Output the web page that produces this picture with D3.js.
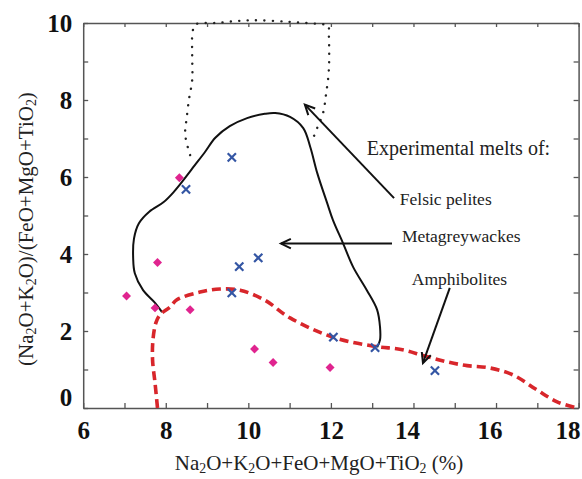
<!DOCTYPE html>
<html>
<head>
<meta charset="utf-8">
<script src="https://cdn.jsdelivr.net/npm/d3@7/dist/d3.min.js"></script>
<style>
  html, body { margin: 0; padding: 0; background: #fff; }
  svg { display: block; }
  text { font-family: "Liberation Serif", "Times New Roman", serif; }
</style>
</head>
<body>
<svg id="chart" width="582" height="479"></svg>
<script>
// Axis tick labels
const xTickLabels = [6, 8, 10, 12, 14, 16, 18];
const yTickLabels = [0, 2, 4, 6, 8, 10];

// Sample compositions: [x, y]
const diamondSamples = [
  [7.05, 2.91], [7.8, 3.78], [8.33, 5.98], [7.74, 2.6],
  [8.59, 2.55], [10.15, 1.53], [10.6, 1.18], [11.98, 1.05]
];
const crossSamples = [
  [8.49, 5.68], [9.6, 6.51], [9.78, 3.67], [10.24, 3.9],
  [9.6, 2.99], [12.06, 1.84], [13.07, 1.57], [14.52, 0.97]
];

// Experimental melt fields
const felsicPelitesField = [
  [8.59, 6.57], [8.49, 6.96], [8.47, 7.22], [8.5, 7.48], [8.56, 8.0],
  [8.64, 8.52], [8.64, 9.17], [8.65, 9.77], [8.72, 9.96], [9.2, 10.0],
  [10.04, 10.07], [11.0, 10.03], [11.74, 9.97], [11.93, 9.94], [11.95, 9.69],
  [11.95, 8.78], [11.88, 8.13], [11.81, 7.66], [11.66, 7.25], [11.57, 7.01]
];
const metagreywackesField = [
  [7.91, 2.49], [7.74, 2.73], [7.45, 3.06], [7.25, 3.5], [7.21, 3.9],
  [7.23, 4.4], [7.35, 4.8], [7.6, 5.1], [7.95, 5.35], [8.2, 5.62],
  [8.45, 5.95], [8.7, 6.3], [8.95, 6.65], [9.2, 7.02], [9.55, 7.32],
  [9.97, 7.53], [10.4, 7.64], [10.65, 7.66], [11.01, 7.56], [11.33, 7.27],
  [11.5, 6.78], [11.67, 6.1], [11.91, 5.32], [12.05, 4.88], [12.29, 4.29],
  [12.54, 3.66], [12.87, 3.06], [13.12, 2.55], [13.19, 2.1], [13.19, 1.77],
  [13.12, 1.58]
];
const amphibolitesField = [
  [7.8, 0], [7.74, 0.65], [7.68, 1.25], [7.69, 1.77], [7.76, 2.21],
  [7.86, 2.42], [8.1, 2.62], [8.27, 2.81], [8.83, 3.01], [9.31, 3.09],
  [9.8, 3.06], [10.4, 2.8], [11.01, 2.34], [12.05, 1.84], [13.07, 1.6],
  [13.7, 1.52], [14.25, 1.36], [14.81, 1.2], [15.3, 1.1], [15.85, 1.04],
  [16.41, 0.86], [16.99, 0.47], [17.48, 0.16], [17.96, 0]
];

// Annotation labels and their leader arrows (from -> tip)
const annotations = [
  { text: "Experimental melts of:", at: [12.87, 6.57], size: 20 },
  { text: "Felsic pelites", at: [13.67, 5.27], size: 17.5 },
  { text: "Metagreywackes", at: [13.72, 4.32], size: 17.5 },
  { text: "Amphibolites", at: [13.96, 3.19], size: 17.5 }
];
const arrows = [
  { from: [13.53, 5.45], to: [11.37, 7.88] },
  { from: [13.48, 4.27], to: [10.79, 4.27] },
  { from: [14.88, 3.12], to: [14.23, 1.17] }
];

const svg = d3.select("#chart");
const W = 582, H = 479;
svg.append("rect").attr("width", W).attr("height", H).attr("fill", "#fff");

const x = d3.scaleLinear().domain([6, 18]).range([83.2, 578.6]);
const y = d3.scaleLinear().domain([0, 10]).range([408, 23]);

const axisColor = "#555";
const minorX = d3.range(6, 19, 1);
const minorY = d3.range(0, 11, 1);

function styleAxis(g) {
  g.select(".domain").attr("stroke", axisColor).attr("stroke-width", 1.5);
  g.selectAll(".tick line").attr("stroke", axisColor).attr("stroke-width", 1.3);
  g.selectAll(".tick text").filter(function () { return this.textContent === ""; }).remove();
}

// Top and right frame axes (ticks only)
svg.append("g").attr("transform", `translate(0,${y(10)})`)
  .call(d3.axisTop(x).tickValues(minorX).tickSize(-4).tickSizeOuter(0).tickFormat(""))
  .call(styleAxis);
svg.append("g").attr("transform", `translate(${x(18)},0)`)
  .call(d3.axisRight(y).tickValues(minorY).tickSize(-5).tickSizeOuter(0).tickFormat(""))
  .call(styleAxis);

// Bottom axis
const gx = svg.append("g").attr("transform", `translate(0,${y(0)})`)
  .call(d3.axisBottom(x).tickValues(minorX).tickSize(-5).tickSizeOuter(0)
    .tickFormat(d => xTickLabels.includes(d) ? d : ""))
  .call(styleAxis);
gx.selectAll(".tick text")
  .attr("y", 31).attr("dy", 0)
  .attr("dx", d => d === 18 ? -11 : (d >= 14 ? -6.5 : 0))
  .attr("fill", "#111")
  .style("font-family", '"Liberation Serif", serif')
  .style("font-weight", "bold").style("font-size", "25px");

// Left axis
const gy = svg.append("g").attr("transform", `translate(${x(6)},0)`)
  .call(d3.axisLeft(y).tickValues(minorY).tickSize(-5).tickSizeOuter(0)
    .tickFormat(d => yTickLabels.includes(d) ? d : ""))
  .call(styleAxis);
gy.selectAll(".tick text")
  .attr("x", -11).attr("dy", d => d === 0 ? "-0.1em" : "0.33em")
  .attr("fill", "#111")
  .style("font-family", '"Liberation Serif", serif')
  .style("font-weight", "bold").style("font-size", "25px");

// Text with chemical subscripts (digits become subscripts)
function formula(sel, str, size) {
  const parts = str.match(/\d+|[^\d]+/g);
  const shift = size * 0.16;
  let lowered = false;
  parts.forEach(p => {
    if (/^\d+$/.test(p)) {
      sel.append("tspan").attr("dy", shift).style("font-size", (size * 0.66) + "px").text(p);
      lowered = true;
    } else {
      const t = sel.append("tspan").text(p);
      if (lowered) { t.attr("dy", -shift); lowered = false; }
    }
  });
}

// Axis titles
const xTitle = svg.append("text")
  .attr("x", 319).attr("y", 470).attr("text-anchor", "middle")
  .attr("fill", "#222").style("font-size", "21px");
formula(xTitle, "Na2O+K2O+FeO+MgO+TiO2 (%)", 21);

const yTitle = svg.append("text")
  .attr("transform", "translate(33,229) rotate(-90)")
  .attr("text-anchor", "middle")
  .attr("fill", "#222").style("font-size", "21px");
formula(yTitle, "(Na2O+K2O)/(FeO+MgO+TiO2)", 21);

// Melt field outlines
const line = d3.line().x(d => x(d[0])).y(d => y(d[1])).curve(d3.curveCatmullRom.alpha(0.5));

svg.append("path").datum(felsicPelitesField)
  .attr("d", line).attr("fill", "none")
  .attr("stroke", "#222").attr("stroke-width", 2.4)
  .attr("stroke-linecap", "round").attr("stroke-dasharray", "0.1 8.3");

svg.append("path").datum(metagreywackesField)
  .attr("d", line).attr("fill", "none")
  .attr("stroke", "#111").attr("stroke-width", 2);

svg.append("path").datum(amphibolitesField)
  .attr("d", line).attr("fill", "none")
  .attr("stroke", "#d8262b").attr("stroke-width", 3.6)
  .attr("stroke-dasharray", "9 5");

// Samples
svg.append("g").selectAll("path").data(diamondSamples).join("path")
  .attr("d", d3.symbol(d3.symbolSquare, 40)())
  .attr("transform", d => `translate(${x(d[0])},${y(d[1])}) rotate(45)`)
  .attr("fill", "#e0248f");

svg.append("g").selectAll("path").data(crossSamples).join("path")
  .attr("d", d3.symbol(d3.symbolTimes, 46)())
  .attr("transform", d => `translate(${x(d[0])},${y(d[1])})`)
  .attr("fill", "none").attr("stroke", "#3456a4").attr("stroke-width", 2.2);

// Arrows with open heads
const ag = svg.append("g").attr("stroke", "#111").attr("stroke-width", 2).attr("fill", "none");
arrows.forEach(a => {
  const x0 = x(a.from[0]), y0 = y(a.from[1]);
  const x1 = x(a.to[0]), y1 = y(a.to[1]);
  ag.append("line").attr("x1", x0).attr("y1", y0).attr("x2", x1).attr("y2", y1);
  const ang = Math.atan2(y1 - y0, x1 - x0);
  const len = 11, spread = Math.PI / 7;
  const p1 = [x1 - len * Math.cos(ang - spread), y1 - len * Math.sin(ang - spread)];
  const p2 = [x1 - len * Math.cos(ang + spread), y1 - len * Math.sin(ang + spread)];
  ag.append("path").attr("d", `M${p1[0]},${p1[1]}L${x1},${y1}L${p2[0]},${p2[1]}`);
});

// Annotation labels
svg.append("g").selectAll("text").data(annotations).join("text")
  .attr("x", d => x(d.at[0])).attr("y", d => y(d.at[1]))
  .attr("fill", "#222").style("font-size", d => d.size + "px")
  .text(d => d.text);
</script>
</body>
</html>
